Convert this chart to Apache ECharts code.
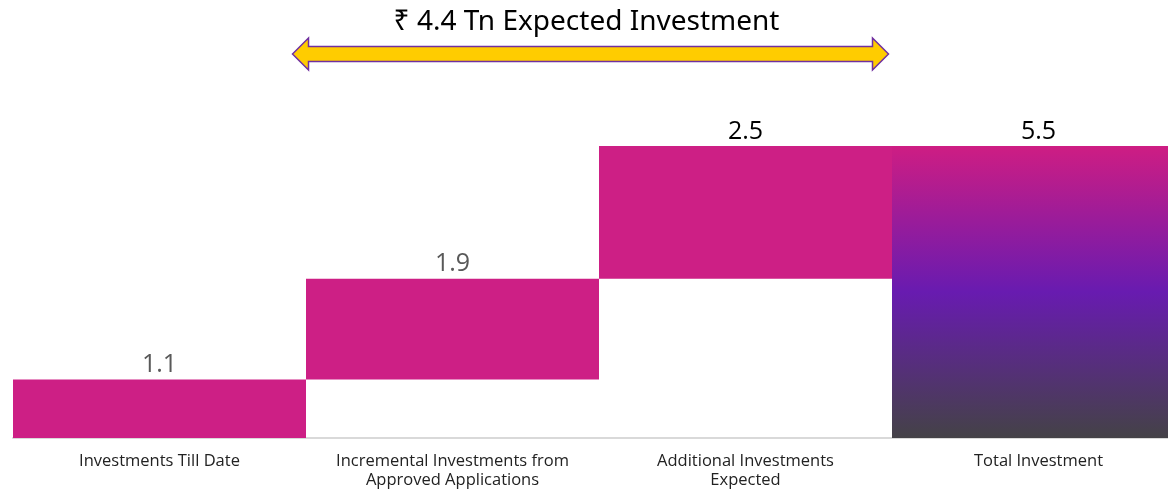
<!DOCTYPE html>
<html lang="en">
<head>
    <meta charset="UTF-8">
    <title>Investment waterfall</title>
    <script src="https://cdn.jsdelivr.net/npm/echarts@6/dist/echarts.min.js"></script>
    <style>
        html, body { margin: 0; padding: 0; background: #fff; }
        #main { width: 1168px; height: 491px; }
    </style>
</head>
<body>
<div id="main"></div>
<script>
    // data
    var categories = ['Investments Till Date', 'Incremental Investments from\nApproved Applications', 'Additional Investments\nExpected', 'Total Investment'];
    var values = [1.1, 1.9, 2.5, 5.5];
    var bases = [0, 1.1, 3.0, 0];
    var labelColors = ['#595959', '#595959', '#000000', '#000000'];
    var arrowText = '₹ 4.4 Tn Expected Investment';

    var pink = '#CD1F85';
    var totalGradient = new echarts.graphic.LinearGradient(0, 0, 0, 1, [
        { offset: 0, color: '#CE1D83' },
        { offset: 0.5, color: '#681BB0' },
        { offset: 1, color: '#444247' }
    ]);

    var chart = echarts.init(document.getElementById('main'));

    var valueData = values.map(function (v, i) {
        return {
            value: v,
            itemStyle: { color: i === values.length - 1 ? totalGradient : pink },
            label: { color: labelColors[i] }
        };
    });

    var option = {
        animation: false,
        grid: { left: 13, top: 146, right: -17, bottom: 53, containLabel: false, outerBoundsMode: 'none' },
        xAxis: {
            type: 'category',
            data: categories,
            axisLine: { lineStyle: { color: '#d9d9d9', width: 2 } },
            axisTick: { show: false },
            axisLabel: {
                interval: 0,
                margin: 14,
                fontSize: 16.5,
                lineHeight: 19,
                color: '#222',
                fontFamily: 'Open Sans'
            }
        },
        yAxis: {
            type: 'value',
            min: 0,
            max: 5.5,
            show: false
        },
        series: [
            {
                type: 'bar',
                stack: 'w',
                data: bases,
                itemStyle: { color: 'transparent' },
                barCategoryGap: 0,
                silent: true
            },
            {
                type: 'bar',
                stack: 'w',
                data: valueData,
                barCategoryGap: 0,
                label: {
                    show: true,
                    position: 'top',
                    distance: 2,
                    fontSize: 25,
                    fontFamily: 'Open Sans'
                }
            }
        ]
    };
    chart.setOption(option);

    // double headed arrow spanning the two incremental bars
    var xl = chart.convertToPixel({ xAxisIndex: 0 }, 0) + 133;
    var xr = chart.convertToPixel({ xAxisIndex: 0 }, 2) + 143;
    var yc = 54, sh = 7.5, hh = 16, hl = 16;
    chart.setOption({
        graphic: [
            {
                type: 'polygon',
                shape: {
                    points: [
                        [xl, yc], [xl + hl, yc - hh], [xl + hl, yc - sh],
                        [xr - hl, yc - sh], [xr - hl, yc - hh], [xr, yc],
                        [xr - hl, yc + hh], [xr - hl, yc + sh], [xl + hl, yc + sh],
                        [xl + hl, yc + hh]
                    ]
                },
                style: { fill: '#FFCC00', stroke: '#7030A0', lineWidth: 1.5 }
            },
            {
                type: 'text',
                x: (xl + xr) / 2 - 4,
                y: 22,
                style: {
                    text: arrowText,
                    fill: '#000',
                    fontSize: 28,
                    fontFamily: 'Noto Sans',
                    align: 'center',
                    verticalAlign: 'middle'
                }
            }
        ]
    });
</script>
</body>
</html>
